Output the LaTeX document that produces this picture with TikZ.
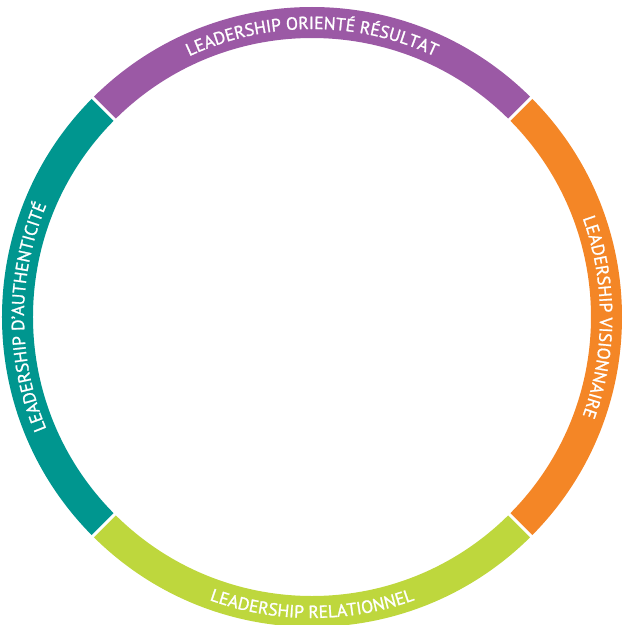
\documentclass[tikz,border=0pt]{standalone}
\usepackage{fontspec}
\usetikzlibrary{decorations.text}
\newfontfamily\ringfont[FakeBold=1.2]{PT Sans}
\newcommand\ringtext{\ringfont\fontsize{17.6}{20}\selectfont}
\definecolor{segpurple}{RGB}{155,89,165}
\definecolor{segorange}{RGB}{244,134,38}
\definecolor{segteal}{RGB}{0,150,143}
\definecolor{seggreen}{RGB}{190,215,61}
\tikzset{
  seglabel/.style={decorate, decoration={text along path, text align=center, text color=white}},
  gapline/.style={draw=white, line width=3pt}
}
\begin{document}
\begin{tikzpicture}
\useasboundingbox (-312pt,-308pt) rectangle (311pt,317pt);
\def\Ro{310pt}
\def\Ri{279pt}
% segments
\fill[segorange] (-45:\Ro) arc[start angle=-45, end angle=45, radius=\Ro] -- (45:\Ri) arc[start angle=45, end angle=-45, radius=\Ri] -- cycle;
\fill[segpurple] (45:\Ro) arc[start angle=45, end angle=135, radius=\Ro] -- (135:\Ri) arc[start angle=135, end angle=45, radius=\Ri] -- cycle;
\fill[segteal] (135:\Ro) arc[start angle=135, end angle=225, radius=\Ro] -- (225:\Ri) arc[start angle=225, end angle=135, radius=\Ri] -- cycle;
\fill[seggreen] (225:\Ro) arc[start angle=225, end angle=315, radius=\Ro] -- (315:\Ri) arc[start angle=315, end angle=225, radius=\Ri] -- cycle;
% gaps
\coordinate (g1a) at (45:275pt); \coordinate (g1b) at (45:314pt);
\coordinate (g2a) at (135:275pt); \coordinate (g2b) at (135:314pt);
\coordinate (g3a) at (225:275pt); \coordinate (g3b) at (225:314pt);
\coordinate (g4a) at (315:275pt); \coordinate (g4b) at (315:314pt);
\draw[gapline] (g1a) -- (g1b);
\draw[gapline] (g2a) -- (g2b);
\draw[gapline] (g3a) -- (g3b);
\draw[gapline] (g4a) -- (g4b);
% labels
\path[seglabel, decoration={text={|\ringtext|LEADERSHIP ORIENTÉ RÉSULTAT}}] (135:288pt) arc[start angle=135, end angle=45, radius=288pt];
\path[seglabel, decoration={text={|\ringtext|LEADERSHIP VISIONNAIRE}}] (45:288pt) arc[start angle=45, end angle=-45, radius=288pt];
\path[seglabel, decoration={text={|\ringtext|LEADERSHIP D’AUTHENTICITÉ}}] (225:288pt) arc[start angle=225, end angle=135, radius=288pt];
\path[seglabel, decoration={text={|\ringtext|LEADERSHIP RELATIONNEL}}] (225:301pt) arc[start angle=225, end angle=315, radius=301pt];
\end{tikzpicture}
\end{document}
